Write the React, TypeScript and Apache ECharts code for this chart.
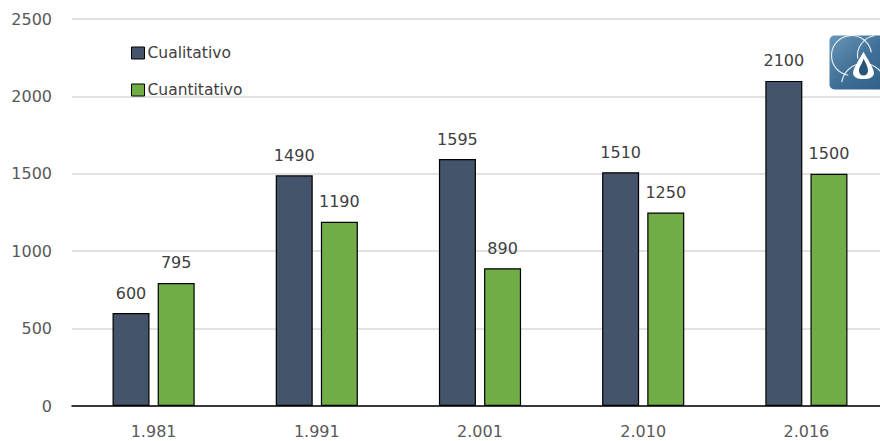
import React, { useEffect, useRef } from "react";
import * as echarts from "echarts";

const categories = ["1.981", "1.991", "2.001", "2.010", "2.016"];
const cualitativo = [600, 1490, 1595, 1510, 2100];
const cuantitativo = [795, 1190, 890, 1250, 1500];
const seriesNames = ["Cualitativo", "Cuantitativo"];

const FONT = "'DejaVu Sans', 'Noto Sans', sans-serif";

export default function App() {
  const ref = useRef<HTMLDivElement>(null);
  useEffect(() => {
    document.body.style.margin = "0";
    document.body.style.overflow = "hidden";
    if (!ref.current) return;
    const flame =
      "M0,-14 C3,-9 11,2 11,6 C11,10 7,12 0,12 C-7,12 -11,10 -11,6 C-11,2 -3,-9 0,-14 Z";
    const drop =
      "M0,-9 C2,-5 5,-1 5,3 C5,6 3,8 0,8 C-3,8 -5,6 -5,3 C-5,-1 -1,-4 0,-9 Z";
    echarts.graphic.registerShape("flameOuter", echarts.graphic.extendPath(flame, {}));
    echarts.graphic.registerShape("flameInner", echarts.graphic.extendPath(drop, {}));
    const chart = echarts.init(ref.current, null, { renderer: "svg" });
    chart.setOption({
      animation: false,
      backgroundColor: "#ffffff",
      grid: { left: 72, top: 19, width: 816, height: 387, containLabel: false },
      legend: {
        orient: "vertical",
        left: 126,
        top: 40,
        itemWidth: 13,
        itemHeight: 12,
        itemGap: 21,
        icon: "rect",
        itemStyle: { borderColor: "#000000", borderWidth: 1 },
        textStyle: { color: "#404040", fontSize: 15.5, fontFamily: FONT, padding: [0, 0, 0, -2] },
        data: seriesNames,
      },
      xAxis: {
        type: "category",
        data: categories,
        axisLine: { lineStyle: { color: "#000000", width: 1.5 } },
        axisTick: { show: false },
        axisLabel: { color: "#595959", fontSize: 16, fontFamily: FONT, margin: 17 },
      },
      yAxis: {
        type: "value",
        min: 0,
        max: 2500,
        interval: 500,
        axisLine: { show: false },
        axisTick: { show: false },
        axisLabel: {
          color: "#595959",
          fontSize: 16,
          fontFamily: FONT,
          margin: 20,
          formatter: (v: number) => String(v),
        },
        splitLine: { lineStyle: { color: "#d9d9d9", width: 1.5 } },
      },
      series: [
        {
          name: seriesNames[0],
          type: "bar",
          data: cualitativo,
          barWidth: 37,
          barGap: "22%",
          itemStyle: { color: "#44546a", borderColor: "#000000", borderWidth: 1.2 },
          label: {
            show: true,
            position: "top",
            distance: 12,
            color: "#404040",
            fontSize: 16,
            fontFamily: FONT,
          },
        },
        {
          name: seriesNames[1],
          type: "bar",
          data: cuantitativo,
          barWidth: 37,
          itemStyle: { color: "#70ad47", borderColor: "#000000", borderWidth: 1.2 },
          label: {
            show: true,
            position: "top",
            distance: 12,
            color: "#404040",
            fontSize: 16,
            fontFamily: FONT,
          },
        },
      ],
      graphic: [
        {
          type: "group",
          left: 829,
          top: 33,
          children: [
            {
              type: "rect",
              shape: { x: 0, y: 0, width: 62, height: 54, r: 5 },
              style: {
                fill: new echarts.graphic.LinearGradient(0, 0, 1, 1, [
                  { offset: 0, color: "#6a96b8" },
                  { offset: 0.5, color: "#3f6f95" },
                  { offset: 1, color: "#2f5f86" },
                ]),
              },
            },
            {
              type: "arc",
              shape: { cx: 22, cy: 20, r: 20, startAngle: Math.PI * 0.55, endAngle: Math.PI * 1.95 },
              style: { stroke: "#ffffff", lineWidth: 1.2, fill: "none", opacity: 0.85 },
            },
            {
              type: "arc",
              shape: { cx: 48, cy: 20, r: 20, startAngle: Math.PI * 0.95, endAngle: Math.PI * 1.45 },
              style: { stroke: "#ffffff", lineWidth: 1.2, fill: "none", opacity: 0.85 },
            },
            {
              type: "arc",
              shape: { cx: 34, cy: 50, r: 22, startAngle: Math.PI * 1.05, endAngle: Math.PI * 1.95 },
              style: { stroke: "#ffffff", lineWidth: 1.2, fill: "none", opacity: 0.85 },
            },
            {
              type: "flameOuter",
              x: 34,
              y: 31,
              scaleX: 0.95,
              scaleY: 1.05,
              style: { fill: "#ffffff" },
            },
            {
              type: "flameInner",
              x: 34,
              y: 32,
              scaleX: 0.9,
              scaleY: 1,
              style: { fill: "#27557a" },
            },
          ],
        },
      ],
    });
    return () => chart.dispose();
  }, []);
  return <div ref={ref} style={{ width: 900, height: 441 }} />;
}
